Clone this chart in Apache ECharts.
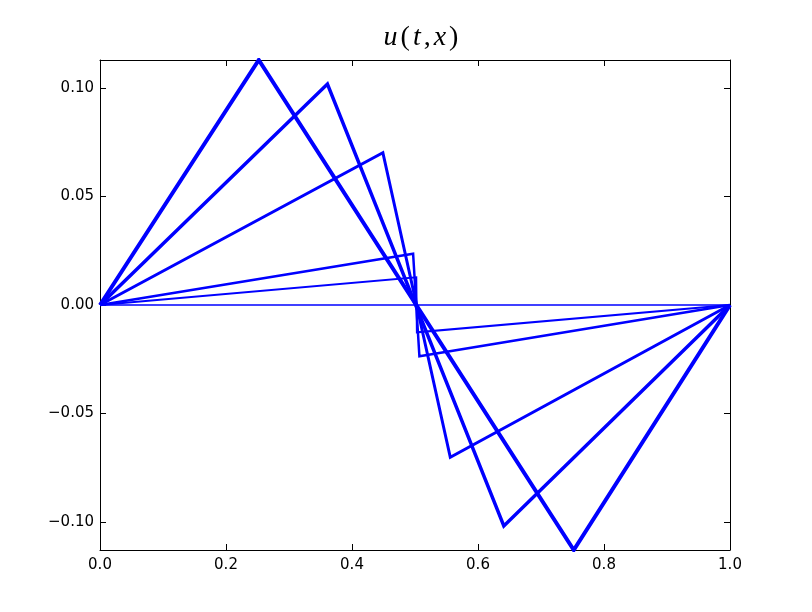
<!DOCTYPE html>
<html>
<head>
<meta charset="utf-8">
<script src="https://cdn.jsdelivr.net/npm/echarts@6/dist/echarts.min.js"></script>
<style>
  html, body { margin: 0; padding: 0; background: #fff; }
  #chart { width: 812px; height: 612px; }
</style>
</head>
<body>
<div id="chart"></div>
<script>
// Profiles u(t, x) at successive times: x positions and values
const profile1X = [0, 0.252, 0.752, 1];
const profile1Y = [0, 0.1129, -0.1129, 0];
const profile2X = [0, 0.361, 0.641, 1];
const profile2Y = [0, 0.1018, -0.1018, 0];
const profile3X = [0, 0.449, 0.556, 1];
const profile3Y = [0, 0.0702, -0.0702, 0];
const profile4X = [0, 0.497, 0.507, 1];
const profile4Y = [0, 0.0236, -0.0236, 0];
const profile5X = [0, 0.502, 0.503, 1];
const profile5Y = [0, 0.0128, -0.0126, 0];
const profile6X = [0, 1];
const profile6Y = [0, 0];

const xTicks = [0, 0.2, 0.4, 0.6, 0.8, 1.0];
const yTicks = [-0.1, -0.05, 0, 0.05, 0.1];

const profiles = [
  { x: profile1X, y: profile1Y, width: 4 },
  { x: profile2X, y: profile2Y, width: 3.5 },
  { x: profile3X, y: profile3Y, width: 3 },
  { x: profile4X, y: profile4Y, width: 2.5 },
  { x: profile5X, y: profile5Y, width: 2 },
  { x: profile6X, y: profile6Y, width: 1.5 }
];

const yMin = -0.1129;
const yMax = 0.1129;

const labelFont = { color: '#000', fontFamily: 'DejaVu Sans', fontSize: 15 };

// matplotlib style minus sign
const fmt = (v, d) => v.toFixed(d).replace('-', '\u2212');

function frameAxis(extra) {
  return Object.assign({
    type: 'value',
    axisLine: { show: true, onZero: false, lineStyle: { color: '#000', width: 1 } },
    axisTick: { show: true, inside: true, length: 6, lineStyle: { color: '#000' } },
    splitLine: { show: false }
  }, extra);
}

const chart = echarts.init(document.getElementById('chart'));

const mathItalic = { fontFamily: 'Liberation Serif', fontStyle: 'italic', fontWeight: 'normal', fontSize: 28, color: '#000', padding: [0, 1.5] };
const mathRoman = { fontFamily: 'Liberation Serif', fontWeight: 'normal', fontSize: 28, color: '#000', padding: [0, 1.5] };

chart.setOption({
  animation: false,
  backgroundColor: '#fff',
  title: {
    text: '{i|u}{r|(}{i|t}{r|,}{i|x}{r|)}',
    left: 416,
    top: 19,
    textAlign: 'center',
    textStyle: {
      fontWeight: 'normal',
      rich: { i: mathItalic, r: mathRoman }
    }
  },
  grid: { left: 100, right: 82, top: 60, bottom: 62 },
  xAxis: [
    frameAxis({
      position: 'bottom',
      min: 0, max: 1, interval: 0.2,
      axisLabel: Object.assign({ margin: 8, formatter: v => fmt(v, 1) }, labelFont)
    }),
    frameAxis({
      position: 'top',
      min: 0, max: 1, interval: 0.2,
      axisLabel: { show: false }
    })
  ],
  yAxis: [
    frameAxis({
      position: 'left',
      min: yMin, max: yMax,
      axisTick: { show: true, inside: true, length: 6, lineStyle: { color: '#000' }, customValues: yTicks },
      axisLabel: Object.assign({ margin: 6, customValues: yTicks, formatter: v => fmt(v, 2) }, labelFont)
    }),
    frameAxis({
      position: 'right',
      min: yMin, max: yMax,
      axisTick: { show: true, inside: true, length: 6, lineStyle: { color: '#000' }, customValues: yTicks },
      axisLabel: { show: false, customValues: yTicks }
    })
  ],
  series: profiles.map(p => ({
    type: 'line',
    xAxisIndex: 0,
    yAxisIndex: 0,
    data: p.x.map((xv, i) => [xv, p.y[i]]),
    showSymbol: false,
    clip: true,
    lineStyle: { color: '#0000ff', width: p.width, join: 'miter' }
  }))
});
</script>
</body>
</html>
